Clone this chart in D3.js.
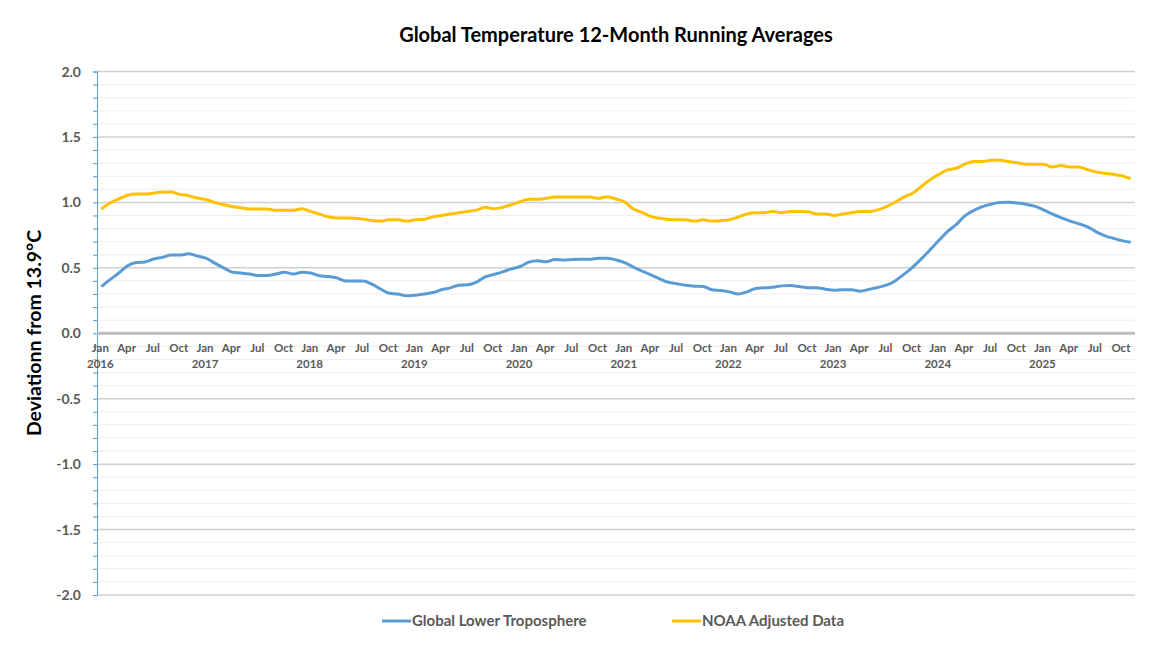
<!DOCTYPE html>
<html>
<head>
<meta charset="utf-8">
<script src="https://cdn.jsdelivr.net/npm/d3@7"></script>
<style>
  body { margin: 0; background: #fff; }
  text { font-family: Lato, "Open Sans", sans-serif; }
</style>
</head>
<body>
<script>
// chart size
var w = 1164;
var h = 655;

// categories: Jan 2016 .. Nov 2025
var monthNames = ["Jan","Feb","Mar","Apr","May","Jun","Jul","Aug","Sep","Oct","Nov","Dec"];
var years = [2016, 2017, 2018, 2019, 2020, 2021, 2022, 2023, 2024, 2025];
var months = [];
years.forEach(function(y) {
  monthNames.forEach(function(m, mi) {
    if (y === 2025 && mi > 10) return;
    months.push({ year: y, month: m, idx: mi });
  });
});

// series values
var lowerTrop = [
  0.357, 0.41, 0.46, 0.515, 0.54, 0.545, 0.567, 0.58, 0.597, 0.597, 0.607, 0.59,
  0.574, 0.536, 0.50, 0.467, 0.46, 0.452, 0.441, 0.441, 0.452, 0.467, 0.452, 0.467,
  0.46, 0.44, 0.434, 0.423, 0.40, 0.40, 0.40, 0.375, 0.339, 0.306, 0.30, 0.286,
  0.291, 0.30, 0.311, 0.332, 0.347, 0.367, 0.37, 0.39, 0.43, 0.449, 0.469, 0.492,
  0.51, 0.543, 0.554, 0.546, 0.564, 0.559, 0.564, 0.566, 0.566, 0.574, 0.574, 0.56,
  0.54, 0.505, 0.474, 0.446, 0.416, 0.39, 0.378, 0.367, 0.36, 0.357, 0.332, 0.327,
  0.316, 0.30, 0.316, 0.342, 0.347, 0.352, 0.362, 0.365, 0.357, 0.347, 0.347, 0.337,
  0.329, 0.332, 0.332, 0.321, 0.335, 0.35, 0.367, 0.40, 0.45, 0.504, 0.568, 0.637,
  0.708, 0.777, 0.83, 0.897, 0.938, 0.968, 0.986, 0.999, 1.001, 0.996, 0.986, 0.971,
  0.943, 0.912, 0.884, 0.859, 0.838, 0.815, 0.777, 0.746, 0.726, 0.708, 0.696
];
var noaa = [
  0.949, 0.995, 1.026, 1.054, 1.064, 1.064, 1.071, 1.079, 1.079, 1.061, 1.051, 1.033,
  1.02, 1.0, 0.982, 0.969, 0.959, 0.949, 0.949, 0.949, 0.939, 0.939, 0.939, 0.952,
  0.931, 0.911, 0.89, 0.88, 0.88, 0.878, 0.872, 0.862, 0.857, 0.867, 0.867, 0.857,
  0.867, 0.87, 0.89, 0.90, 0.911, 0.921, 0.931, 0.941, 0.962, 0.952, 0.962, 0.982,
  1.005, 1.023, 1.023, 1.031, 1.041, 1.041, 1.041, 1.041, 1.041, 1.031, 1.043, 1.026,
  1.003, 0.949, 0.923, 0.893, 0.878, 0.87, 0.867, 0.867, 0.857, 0.867, 0.857, 0.86,
  0.867, 0.888, 0.911, 0.921, 0.921, 0.931, 0.921, 0.931, 0.931, 0.929, 0.911, 0.911,
  0.90, 0.911, 0.921, 0.931, 0.931, 0.943, 0.968, 1.001, 1.04, 1.07, 1.121, 1.172,
  1.213, 1.248, 1.261, 1.292, 1.312, 1.312, 1.322, 1.322, 1.312, 1.302, 1.292, 1.292,
  1.292, 1.271, 1.282, 1.271, 1.271, 1.251, 1.233, 1.223, 1.215, 1.203, 1.18
];

var yTicks = [-2.0, -1.5, -1.0, -0.5, 0.0, 0.5, 1.0, 1.5, 2.0];
var xTickMonths = ["Jan", "Apr", "Jul", "Oct"];

var series = [
  { name: "Global Lower Troposphere", values: lowerTrop, color: "#5B9BD5" },
  { name: "NOAA Adjusted Data", values: noaa, color: "#FFC000" }
];

var svg = d3.select("body")
  .append("svg")
  .attr("width", w)
  .attr("height", h);

var x = d3.scalePoint()
  .domain(d3.range(months.length))
  .range([97, 1135])
  .padding(0.5);

var y = d3.scaleLinear()
  .domain([-2, 2])
  .range([595, 71.5]);

// minor gridlines
var minor = d3.range(-20, 21).map(function(d) { return d / 10; })
  .filter(function(d) { return Math.abs(d * 2 - Math.round(d * 2)) > 1e-6; });

svg.append("g").selectAll("line")
  .data(minor)
  .enter()
  .append("line")
  .attr("x1", 97).attr("x2", 1135)
  .attr("y1", function(d) { return y(d); })
  .attr("y2", function(d) { return y(d); })
  .attr("stroke", "#eeeeee")
  .attr("stroke-width", 1);

svg.append("g").selectAll("line")
  .data(yTicks.filter(function(d) { return d !== 0; }))
  .enter()
  .append("line")
  .attr("x1", 97).attr("x2", 1135)
  .attr("y1", function(d) { return y(d); })
  .attr("y2", function(d) { return y(d); })
  .attr("stroke", "#d0d0d0")
  .attr("stroke-width", 1.5);

// y axis (blue line with small ticks)
var yAxis = d3.axisLeft(y)
  .tickValues(d3.range(-20, 21).map(function(d) { return d / 10; }))
  .tickSize(4)
  .tickFormat("");
var yg = svg.append("g")
  .attr("transform", "translate(97,0)")
  .call(yAxis);
yg.selectAll("path, line").attr("stroke", "#5B9BD5");

svg.append("g").selectAll("text")
  .data(yTicks)
  .enter()
  .append("text")
  .attr("x", 81)
  .attr("y", function(d) { return y(d) + 5; })
  .attr("text-anchor", "end")
  .attr("font-size", "14px")
  .attr("font-weight", "bold")
  .attr("fill", "#595959")
  .text(function(d) { return d3.format(".1f")(d).replace("−", "-"); });

// zero line
svg.append("line")
  .attr("x1", 97).attr("x2", 1135)
  .attr("y1", y(0)).attr("y2", y(0))
  .attr("stroke", "#bfbfbf")
  .attr("stroke-width", 3);

// x labels
var labelled = months.map(function(m, i) { return { m: m, i: i }; })
  .filter(function(d) { return xTickMonths.indexOf(d.m.month) >= 0; });

svg.append("g").selectAll("text")
  .data(labelled)
  .enter()
  .append("text")
  .attr("x", function(d) { return x(d.i) - 1; })
  .attr("y", 352)
  .attr("text-anchor", "middle")
  .attr("font-size", "11.5px")
  .attr("font-weight", "bold")
  .attr("fill", "#595959")
  .text(function(d) { return d.m.month; });

svg.append("g").selectAll("text")
  .data(labelled.filter(function(d) { return d.m.month === "Jan"; }))
  .enter()
  .append("text")
  .attr("x", function(d) { return x(d.i) - 1; })
  .attr("y", 368)
  .attr("text-anchor", "middle")
  .attr("font-size", "11.5px")
  .attr("font-weight", "bold")
  .attr("fill", "#595959")
  .text(function(d) { return d.m.year; });

// lines
var line = d3.line()
  .x(function(d, i) { return x(i); })
  .y(function(d) { return y(d); })
  .curve(d3.curveMonotoneX);

svg.append("g").selectAll("path")
  .data(series)
  .enter()
  .append("path")
  .attr("d", function(d) { return line(d.values); })
  .attr("fill", "none")
  .attr("stroke", function(d) { return d.color; })
  .attr("stroke-width", 3)
  .attr("stroke-linejoin", "round");

// title
svg.append("text")
  .attr("x", 616)
  .attr("y", 42)
  .attr("text-anchor", "middle")
  .attr("font-size", "20px")
  .attr("font-weight", "bold")
  .attr("fill", "#000")
  .text("Global Temperature 12-Month Running Averages");

// y axis title
svg.append("text")
  .attr("transform", "translate(41,333) rotate(-90)")
  .attr("text-anchor", "middle")
  .attr("font-size", "19.5px")
  .attr("font-weight", "bold")
  .attr("fill", "#000")
  .text("Deviationn from 13.9°C");

// legend
var legX = [382, 672];
var leg = svg.append("g").selectAll("g")
  .data(series)
  .enter()
  .append("g")
  .attr("transform", function(d, i) { return "translate(" + legX[i] + ",621)"; });

leg.append("line")
  .attr("x1", 0).attr("x2", 29)
  .attr("y1", 0).attr("y2", 0)
  .attr("stroke", function(d) { return d.color; })
  .attr("stroke-width", 3);

leg.append("text")
  .attr("x", 30)
  .attr("y", 5)
  .attr("font-size", "15px")
  .attr("font-weight", "bold")
  .attr("fill", "#595959")
  .text(function(d) { return d.name; });
</script>
</body>
</html>
